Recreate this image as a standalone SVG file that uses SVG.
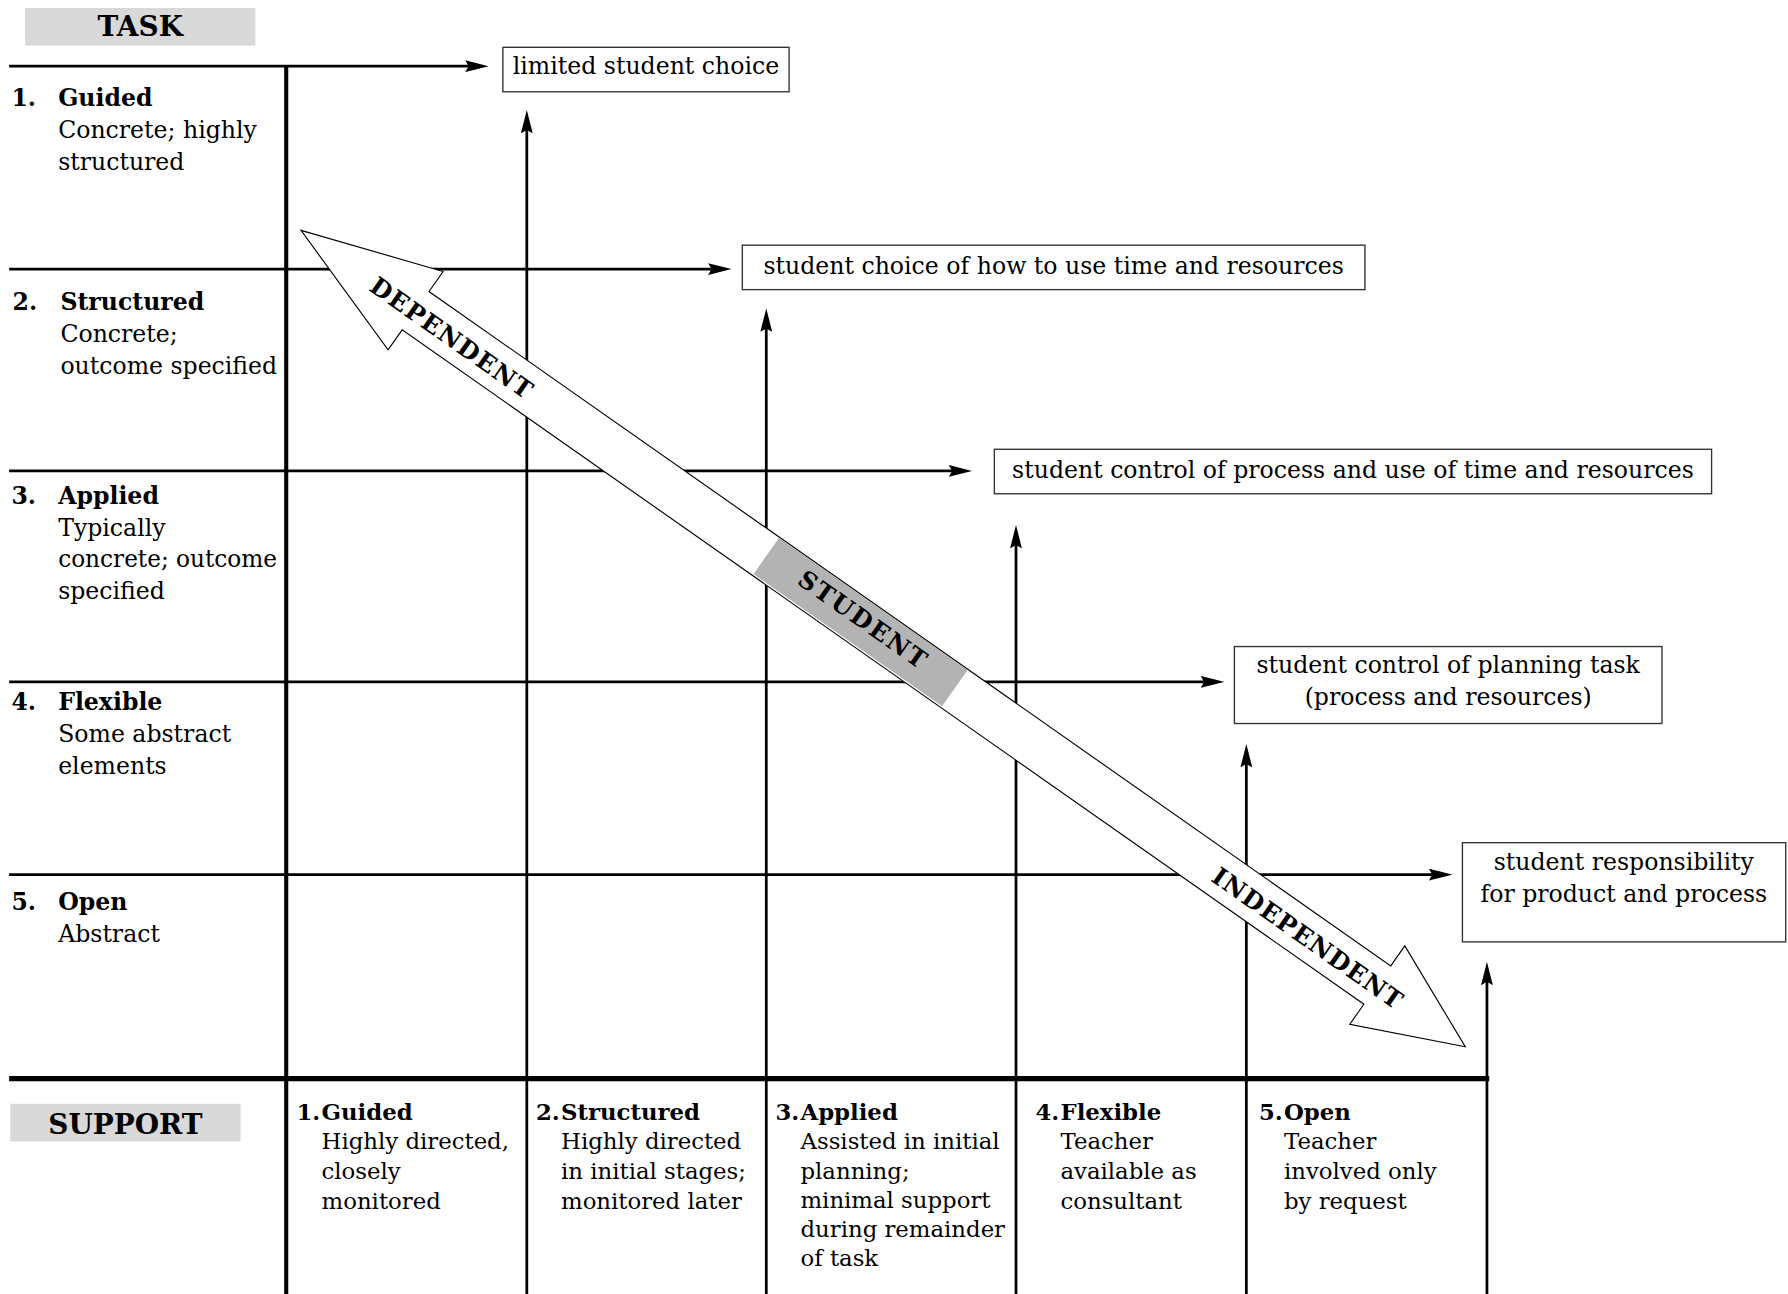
<svg xmlns="http://www.w3.org/2000/svg" width="1788" height="1294" viewBox="0 0 1788 1294">
<style>
text { font-family: "DejaVu Serif", "Liberation Serif", serif; fill: #000; }
.t { font-size: 20.7px; }
.s { font-size: 20px; }
.b { font-weight: bold; }
.c { text-anchor: middle; }
.hdr { font-size: 24.5px; font-weight: bold; text-anchor: middle; }
.hbox { fill: #d9d9d9; stroke: none; }
.box { fill: #fff; stroke: #333; stroke-width: 1.2; }
.ln { stroke: #000; stroke-width: 2.4; fill: none; }
.thick { stroke: #000; stroke-width: 3.6; fill: none; }
.base { stroke: #000; stroke-width: 4.6; fill: none; }
.arr { marker-end: url(#ah); }
.big { font-size: 21.5px; font-weight: bold; text-anchor: middle; }
</style>
<defs>
<marker id="ah" viewBox="0 -5.2 20.5 10.4" markerWidth="20.5" markerHeight="10.4" refX="10" refY="0" orient="auto" markerUnits="userSpaceOnUse">
<path d="M0,-5.2 L20.5,0 L0,5.2 L3,0 Z" fill="#000"/>
</marker>
</defs>
<rect width="1788" height="1294" fill="#fff"/>
<g transform="scale(1.1403)">
<g id="connectors">
<line class="ln arr" x1="8" y1="58" x2="418" y2="58"/>
<line class="ln arr" x1="8" y1="236" x2="631" y2="236"/>
<line class="ln arr" x1="8" y1="413" x2="842" y2="413"/>
<line class="ln arr" x1="8" y1="598" x2="1063" y2="598"/>
<line class="ln arr" x1="8" y1="767" x2="1263" y2="767"/>
<line class="ln arr" x1="462" y1="1136" x2="462" y2="107"/>
<line class="ln arr" x1="672" y1="1136" x2="672" y2="281"/>
<line class="ln arr" x1="891" y1="1136" x2="891" y2="471"/>
<line class="ln arr" x1="1093" y1="1136" x2="1093" y2="663"/>
<line class="ln arr" x1="1304" y1="1136" x2="1304" y2="854"/>
<line class="thick" x1="251" y1="57" x2="251" y2="1136"/>
<line class="base" x1="8" y1="946" x2="1306" y2="946"/>
</g>
<g id="student-arrow" transform="translate(264,202) rotate(35.04)">
<polygon points="0,0 122.7,-42 122.7,-20.5 1152.8,-20.5 1152.8,-42 1247,0 1152.8,42 1152.8,20.5 122.7,20.5 122.7,42" fill="#fff" stroke="#000" stroke-width="1"/>
<rect x="498" y="-20" width="202" height="39" fill="#b3b3b3"/>
<text class="big" x="162" y="9" textLength="168" lengthAdjust="spacing">DEPENDENT</text>
<text class="big" x="599" y="4" textLength="132" lengthAdjust="spacing">STUDENT</text>
<text class="big" x="1079" y="9" textLength="198" lengthAdjust="spacing">INDEPENDENT</text>
</g>
<g id="task-header">
<rect class="hbox" x="22" y="7" width="202" height="33"/>
<text class="hdr" x="123" y="32">TASK</text>
</g>
<g id="support-header">
<rect class="hbox" x="9" y="968" width="202" height="33"/>
<text class="hdr" x="110" y="994.5">SUPPORT</text>
</g>
<g id="task-1">
<text class="t b" x="10" y="93">1.</text>
<text class="t b" x="51" y="93">Guided</text>
<text class="t" x="51" y="121">Concrete; highly</text>
<text class="t" x="51" y="149">structured</text>
</g>
<g id="task-2">
<text class="t b" x="11" y="272">2.</text>
<text class="t b" x="53" y="272">Structured</text>
<text class="t" x="53" y="300">Concrete;</text>
<text class="t" x="53" y="328" textLength="190" lengthAdjust="spacingAndGlyphs">outcome specified</text>
</g>
<g id="task-3">
<text class="t b" x="10" y="442">3.</text>
<text class="t b" x="51" y="442">Applied</text>
<text class="t" x="51" y="470">Typically</text>
<text class="t" x="51" y="497" textLength="192" lengthAdjust="spacingAndGlyphs">concrete; outcome</text>
<text class="t" x="51" y="525">specified</text>
</g>
<g id="task-4">
<text class="t b" x="10" y="623">4.</text>
<text class="t b" x="51" y="623">Flexible</text>
<text class="t" x="51" y="651">Some abstract</text>
<text class="t" x="51" y="679">elements</text>
</g>
<g id="task-5">
<text class="t b" x="10" y="798">5.</text>
<text class="t b" x="51" y="798">Open</text>
<text class="t" x="51" y="826">Abstract</text>
</g>
<g id="outcome-1">
<rect class="box" x="441" y="41.5" width="251" height="39"/>
<text class="t c" x="566.5" y="65">limited student choice</text>
</g>
<g id="outcome-2">
<rect class="box" x="651" y="215" width="546" height="39"/>
<text class="t c" x="924" y="240">student choice of how to use time and resources</text>
</g>
<g id="outcome-3">
<rect class="box" x="872" y="394" width="629" height="39"/>
<text class="t c" x="1186.5" y="419">student control of process and use of time and resources</text>
</g>
<g id="outcome-4">
<rect class="box" x="1082.5" y="567" width="375" height="67.5"/>
<text class="t c" x="1270" y="590.6">student control of planning task</text>
<text class="t c" x="1270" y="618.4">(process and resources)</text>
</g>
<g id="outcome-5">
<rect class="box" x="1282.5" y="739" width="283.5" height="87"/>
<text class="t c" x="1424" y="763">student responsibility</text>
<text class="t c" x="1424" y="791">for product and process</text>
</g>
<g id="support-1">
<text class="s b" x="260" y="982">1.</text>
<text class="s b" x="282" y="982">Guided</text>
<text class="s" x="282" y="1008">Highly directed,</text>
<text class="s" x="282" y="1034">closely</text>
<text class="s" x="282" y="1060">monitored</text>
</g>
<g id="support-2">
<text class="s b" x="470" y="982">2.</text>
<text class="s b" x="492" y="982">Structured</text>
<text class="s" x="492" y="1008">Highly directed</text>
<text class="s" x="492" y="1034">in initial stages;</text>
<text class="s" x="492" y="1060">monitored later</text>
</g>
<g id="support-3">
<text class="s b" x="680" y="982">3.</text>
<text class="s b" x="702" y="982">Applied</text>
<text class="s" x="702" y="1008">Assisted in initial</text>
<text class="s" x="702" y="1034">planning;</text>
<text class="s" x="702" y="1059.5">minimal support</text>
<text class="s" x="702" y="1085">during remainder</text>
<text class="s" x="702" y="1110.5">of task</text>
</g>
<g id="support-4">
<text class="s b" x="908" y="982">4.</text>
<text class="s b" x="930" y="982">Flexible</text>
<text class="s" x="930" y="1008">Teacher</text>
<text class="s" x="930" y="1034">available as</text>
<text class="s" x="930" y="1060">consultant</text>
</g>
<g id="support-5">
<text class="s b" x="1104" y="982">5.</text>
<text class="s b" x="1126" y="982">Open</text>
<text class="s" x="1126" y="1008">Teacher</text>
<text class="s" x="1126" y="1034">involved only</text>
<text class="s" x="1126" y="1060">by request</text>
</g>
</g>
</svg>
